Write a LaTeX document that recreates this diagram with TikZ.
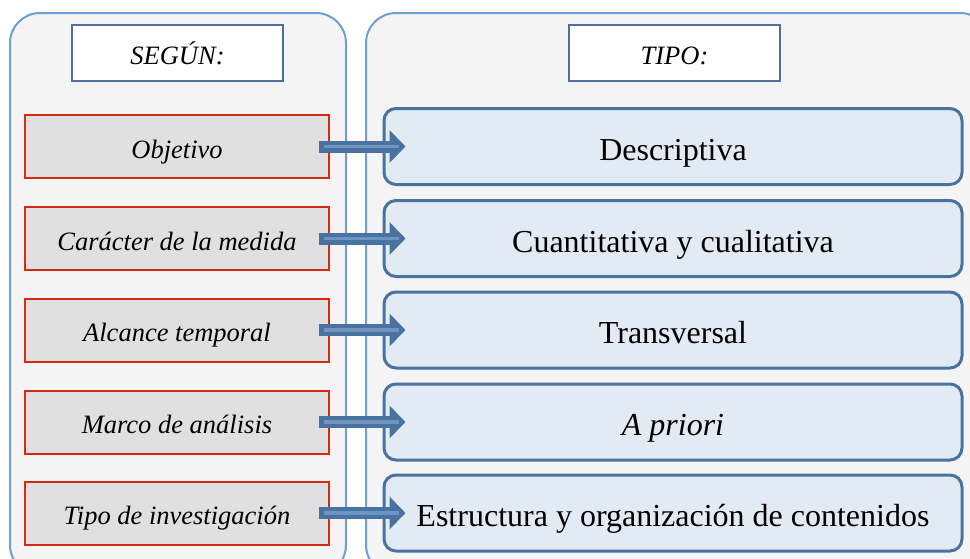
\documentclass[tikz,border=0pt]{standalone}
\usepackage{fontspec}
\setmainfont{Liberation Serif}
\usetikzlibrary{arrows.meta}
\definecolor{panelline}{HTML}{6E9FD2}
\definecolor{panelfill}{HTML}{F4F4F4}
\definecolor{typeline}{HTML}{4A72A0}
\definecolor{typefill}{HTML}{E2EAF4}
\definecolor{critline}{HTML}{D42A10}
\definecolor{critfill}{HTML}{E0E0E0}
\definecolor{headline}{HTML}{4F6FA0}
\definecolor{arrowlight}{HTML}{6F94C4}

\begin{document}
\begin{tikzpicture}[x=1pt,y=-1pt,
    panel/.style={draw=panelline, fill=panelfill, line width=2pt, rounded corners=30pt},
    header/.style={draw=headline, fill=white, line width=2.5pt, minimum width=211pt, minimum height=56pt,
      text height=23.6pt, text depth=0pt, font=\fontsize{26.5}{30}\selectfont\itshape},
    crit/.style={draw=critline, fill=critfill, line width=2pt, minimum width=304pt, minimum height=63pt,
      text height=23.6pt, text depth=0pt, font=\fontsize{26.5}{30}\selectfont\itshape},
    kind/.style={draw=typeline, fill=typefill, line width=3pt, rounded corners=12pt, minimum width=578pt,
      minimum height=76pt, text height=27pt, text depth=0pt, font=\fontsize{32}{36}\selectfont},
    link/.style={draw=typeline, line width=12pt, shorten <=-11pt, shorten >=-23pt,
      -{Triangle[length=16pt,width=32pt]}}]

    \useasboundingbox (0,0) rectangle (970,558);
    \clip (0,0) rectangle (970,558);

    \draw[panel] (10,13) rectangle (346,575);
    \draw[panel] (366,13) rectangle (990,575);

    \node[header] (segun) at (177.5,53) {SEGÚN:};
    \node[header] (tipo) at (674.5,53) {TIPO:};

    \foreach \i/\y/\crit/\kind in {1/146.5/Objetivo/Descriptiva,
        2/238.5/Carácter de la medida/Cuantitativa y cualitativa,
        3/330/Alcance temporal/Transversal,
        4/422/Marco de análisis/\textit{A priori},
        5/513/Tipo de investigación/Estructura y organización de contenidos}
    {
      \node[crit] (c\i) at (177,\y) {\crit};
      \node[kind] (k\i) at (673,\y) {\kind};
      \draw[link] (c\i.east) -- (k\i.west);
      \draw[arrowlight, line width=3.5pt, shorten <=-6pt, shorten >=-16pt] (c\i.east) -- (k\i.west);
    }
  \end{tikzpicture}
\end{document}
